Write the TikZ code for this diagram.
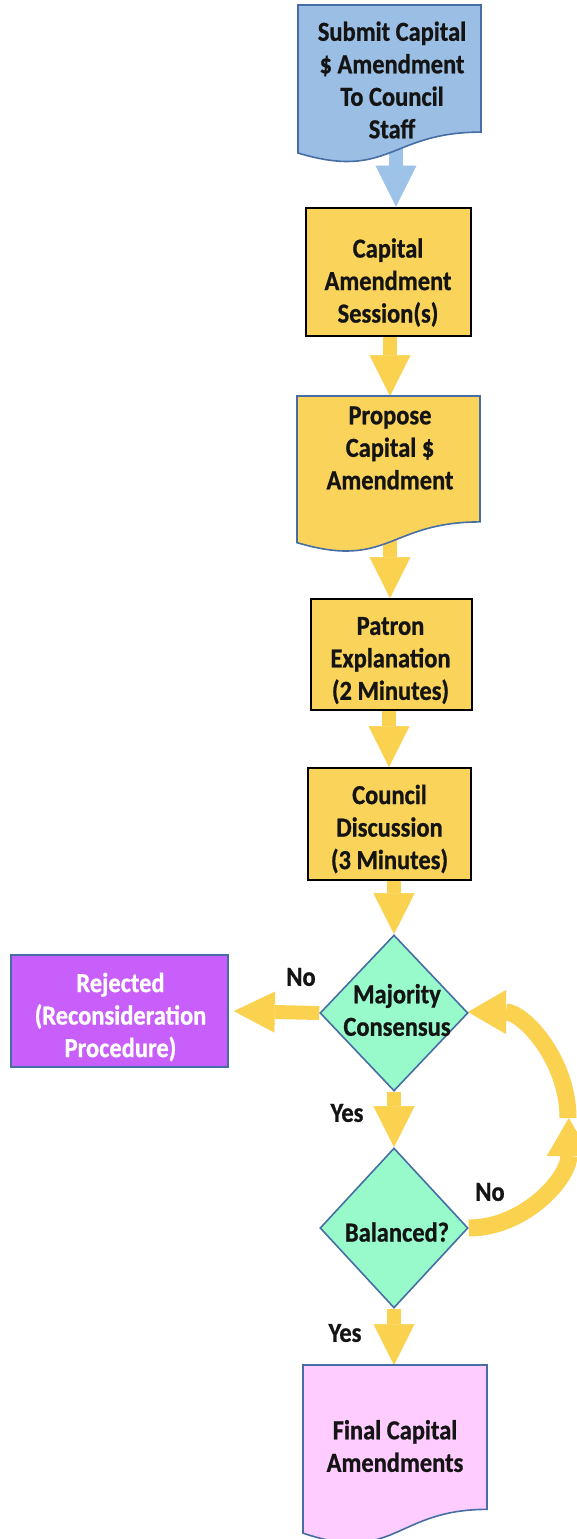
\documentclass[tikz,border=0pt]{standalone}
\usepackage{fontspec}
\setmainfont{Carlito}[FakeStretch=0.89, BoldFeatures={FakeBold=0.8}]
\usetikzlibrary{arrows.meta,shapes.geometric,calc}
\definecolor{docblue}{RGB}{155,190,228}
\definecolor{arrblue}{RGB}{157,195,232}
\definecolor{lineblue}{RGB}{70,110,165}
\definecolor{boxyellow}{RGB}{250,212,90}
\definecolor{arryellow}{RGB}{250,210,80}
\definecolor{mint}{RGB}{152,250,202}
\definecolor{violet2}{RGB}{200,95,250}
\definecolor{pink2}{RGB}{255,204,255}
\pgfdeclarelayer{bg}
\pgfsetlayers{bg,main}
\newcommand{\docshape}[2]{\draw[draw=lineblue, line width=1.6pt, fill=#2] (#1.north west) -- (#1.north east) -- ($(#1.north east)!0.802!(#1.south east)$) .. controls ($(#1.north)!0.802!(#1.south)$) and ($(#1.north)!1.1075!(#1.south)$) .. ($(#1.north west)!0.934!(#1.south west)$) -- cycle;}
\tikzset{
  txt/.style={font=\bfseries\fontsize{27.5}{32.5}\selectfont, align=center, inner sep=0pt, text=black!92},
  docarea/.style={inner sep=0pt, outer sep=0pt, anchor=north west},
  rectbox/.style={draw=black, line width=2pt, fill=boxyellow, inner sep=0pt},
  dia/.style={diamond, draw=lineblue, line width=1.6pt, fill=mint, inner sep=0pt},
  arr/.style={draw=arryellow, line width=14pt, -{Triangle[width=41pt,length=41pt,line width=0.5pt]}},
  bluearr/.style={arr, draw=arrblue},
  curvarr/.style={draw=arryellow, line width=17pt, -{Triangle[width=44pt,length=38pt,line width=0.5pt]}},
}
\begin{document}
\begin{tikzpicture}[x=1pt,y=-1pt]
\useasboundingbox (0,0) rectangle (576,1539);

% document 1
\node[docarea, minimum width=183pt, minimum height=158.5pt] (d1) at (298,5) {};
\docshape{d1}{docblue}
\node[txt] (t1) at (392,80) {Submit Capital\\\$ Amendment\\To Council\\Staff};

% rect 1
\node[rectbox, minimum width=165pt, minimum height=128pt] (r1) at (388,271.5) {};
\node[txt] (r1t) at ($(r1)+(0,11)$) {Capital\\Amendment\\Session(s)};

% document 2
\node[docarea, minimum width=183pt, minimum height=157pt] (d2) at (297,396) {};
\docshape{d2}{boxyellow}
\node[txt] (t2) at (390,448) {Propose\\Capital \$\\Amendment};

% rect 2, rect 3
\node[rectbox, minimum width=161pt, minimum height=111pt] (r2) at (391.5,654.5) {};
\node[txt] (r2t) at ($(r2)+(-1,6)$) {Patron\\Explanation\\(2 Minutes)};
\node[rectbox, minimum width=163pt, minimum height=112pt] (r3) at (389.5,824) {};
\node[txt] (r3t) at ($(r3)+(0,5)$) {Council\\Discussion\\(3 Minutes)};

% diamonds
\node[dia, minimum width=148pt, minimum height=156pt] (dia1) at (394,1013) {};
\node[txt] (dia1t) at (397,1010) {Majority\\Consensus};
\node[dia, minimum width=148pt, minimum height=160pt] (dia2) at (394,1228) {};
\node[txt] (dia2t) at (397,1232) {Balanced?};

% rejected
\node[draw=lineblue, line width=1.6pt, fill=violet2, inner sep=0pt, minimum width=217pt, minimum height=112pt] (rej) at (119.5,1011) {};
\node[txt, text=white] (rejt) at ($(rej)+(1,6)$) {Rejected\\(Reconsideration\\Procedure)};

% final document
\node[docarea, minimum width=184pt, minimum height=180pt] (d3) at (303,1365) {};
\docshape{d3}{pink2}
\node[txt] (t3) at (395,1446) {Final Capital\\Amendments};

% labels
\node[txt] (no1) at (301,977) {No};
\node[txt] (yes1) at (347,1113) {Yes};
\node[txt] (no2) at (490,1192) {No};
\node[txt] (yes2) at (345,1333) {Yes};

\coordinate (loopR) at (568,1118);

\begin{pgfonlayer}{bg}
\draw[bluearr] ($(d1.north)!0.9!(d1.south)+(6.5,0)$) -- ($(r1.north)+(8,0)$);
\draw[arr] ($(r1.south)+(2,0)$) -- ($(d2.north)+(1.5,0)$);
\draw[arr] ($(d2.north)!0.9!(d2.south)+(1.5,0)$) -- ($(r2.north)+(-1.5,0)$);
\draw[arr] ($(r2.south)+(-2.5,0)$) -- ($(r3.north)+(-0.5,0)$);
\draw[arr] ($(r3.south)+(4.5,0)$) -- (dia1.north);
\draw[arr] (dia1.south) -- (dia2.north);
\draw[arr] (dia2.south) -- (dia2.south |- d3.north);
\draw[arr, shorten >=5pt] (dia1.west) -- (rej.east);
\draw[curvarr] (dia2.east) arc[start angle=-90, end angle=0, x radius=100pt, y radius=110pt];
\draw[curvarr] (loopR) arc[start angle=0, end angle=90, x radius=100pt, y radius=106pt];
\end{pgfonlayer}
\end{tikzpicture}
\end{document}
